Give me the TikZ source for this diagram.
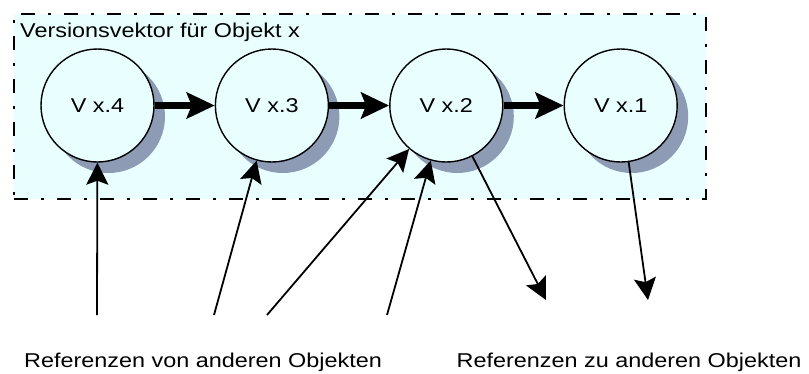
\documentclass[tikz,border=0pt]{standalone}
\usepackage{fontspec}
\newfontfamily\vecfont[FakeStretch=1.17]{Liberation Sans}
\usetikzlibrary{arrows.meta,positioning,shadows}
\definecolor{VVCyan}{HTML}{E9FFFF}
\definecolor{VVShade}{HTML}{8D9BB5}
\tikzset{frame/.style={draw=black,line width=2.4pt,dash pattern=on 14pt off 13pt on 3pt off 13pt,fill=VVCyan,inner sep=0pt}, version/.style={circle,draw=black,line width=1.4pt,fill=VVCyan,minimum size=113pt,inner sep=0pt,font=\vecfont\fontsize{20}{24}\selectfont,drop shadow={shadow xshift=11pt,shadow yshift=-11pt,fill=VVShade,opacity=1}}, txt/.style={inner sep=0pt,font=\vecfont\fontsize{20}{24}\selectfont}, nextarrow/.style={-{Stealth[length=28pt,width=26pt,inset=5pt]},line width=7pt}, refarrow/.style={-{Stealth[length=22pt,width=22pt,inset=4pt]},line width=1.8pt}}

\begin{document}
\begin{tikzpicture}[x=1pt,y=-1pt,node distance=60pt]
\useasboundingbox (0,0) rectangle (809,373);
\node[frame,anchor=north west,minimum width=692pt,minimum height=185pt] (vec) at (13,13) {};
\node[txt,anchor=base west] (title) at (20,37) {Versionsvektor für Objekt x};
\node[version] (v4) at (97.5,105.5) {V x.4};
\node[version,right=of v4] (v3) {V x.3};
\node[version,right=of v3] (v2) {V x.2};
\node[version,right=of v2] (v1) {V x.1};
\foreach \src/\dst in {v4/v3,v3/v2,v2/v1}{\draw[nextarrow] (\src)--(\dst);}
% loose ends of the references
\coordinate (r1) at (97,315);
\coordinate (r2) at (214,315);
\coordinate (r3) at (267,315);
\coordinate (r4) at (387,315);
\coordinate (o1) at (546,300);
\coordinate (o2) at (648,300);
\foreach \src/\dst in {r1/v4,r2/v3,r3/v2,r4/v2,v2/o1,v1/o2}{\draw[refarrow] (\src)--(\dst);}
\node[txt,anchor=base] (from) at (203,367) {Referenzen von anderen Objekten};
\node[txt,anchor=base] (to) at (629,367) {Referenzen zu anderen Objekten};
\end{tikzpicture}
\end{document}
